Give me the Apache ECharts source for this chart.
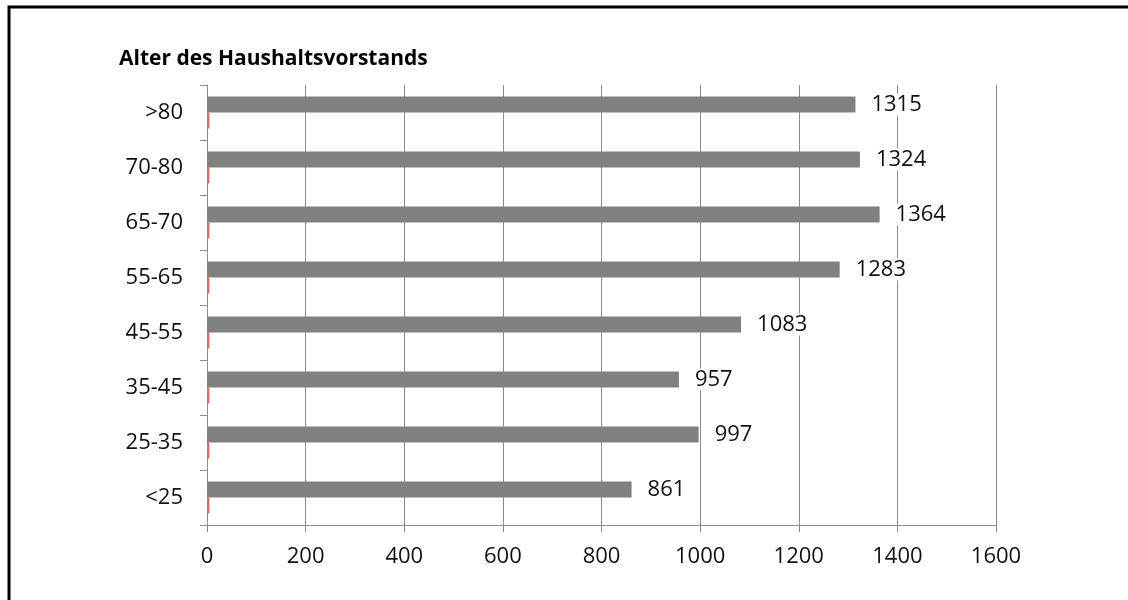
<!DOCTYPE html>
<html>
<head>
<meta charset="utf-8">
<script src="https://cdn.jsdelivr.net/npm/echarts@6/dist/echarts.min.js"></script>
<style>
  html, body { margin: 0; padding: 0; background: #fff; }
  #chart { width: 1128px; height: 600px; }
</style>
</head>
<body>
<div id="chart"></div>
<script>
  // Altersgruppen von unten nach oben
  var categories = ['<25', '25-35', '35-45', '45-55', '55-65', '65-70', '70-80', '>80'];
  var werte = [861, 997, 957, 1083, 1283, 1364, 1324, 1315];
  var zweiteReihe = [5, 5, 5, 5, 5, 5, 5, 5];   // kleine rote Balken bei 0
  var xTicks = [0, 200, 400, 600, 800, 1000, 1200, 1400, 1600];

  var font = '"Open Sans", sans-serif';
  var myChart = echarts.init(document.getElementById('chart'));

  myChart.setOption({
    backgroundColor: '#fff',
    animation: false,
    title: {
      text: 'Alter des Haushaltsvorstands',
      left: 114,
      top: 44,
      textStyle: { fontFamily: font, fontSize: 21, fontWeight: 'bold', color: '#000' }
    },
    graphic: [{
      type: 'rect',
      shape: { x: 9, y: 7, width: 1400, height: 800 },
      style: { fill: 'none', stroke: '#000', lineWidth: 3 },
      silent: true
    }],
    grid: { left: 207, right: 132, top: 85, bottom: 75 },
    xAxis: {
      type: 'value',
      min: xTicks[0],
      max: xTicks[xTicks.length - 1],
      interval: xTicks[1] - xTicks[0],
      axisLine: { show: true, lineStyle: { color: '#8c8c8c', width: 1 } },
      axisTick: { show: true, length: 7, lineStyle: { color: '#8c8c8c' } },
      axisLabel: {
        fontFamily: font, fontSize: 22, color: '#111', margin: 21,
        formatter: function (v) { return String(v); }
      },
      splitLine: { show: true, lineStyle: { color: '#8c8c8c', width: 1 } }
    },
    yAxis: {
      type: 'category',
      data: categories,
      axisLine: { show: true, lineStyle: { color: '#8c8c8c', width: 1 } },
      axisTick: { show: true, length: 7, lineStyle: { color: '#8c8c8c' } },
      axisLabel: { fontFamily: font, fontSize: 22, color: '#111', margin: 24 }
    },
    series: [
      {
        type: 'bar',
        name: 'Anzahl',
        data: werte,
        barWidth: 16,
        barGap: '0%',
        itemStyle: { color: '#808080' },
        label: {
          show: true,
          position: 'right',
          distance: 14,
          fontFamily: font,
          fontSize: 22,
          color: '#111',
          backgroundColor: '#fff',
          padding: [0, 2]
        },
        z: 3
      },
      {
        type: 'bar',
        name: 'Rest',
        data: zweiteReihe,
        barWidth: 16,
        itemStyle: { color: '#d9706c' },
        z: 2
      }
    ]
  });
</script>
</body>
</html>
